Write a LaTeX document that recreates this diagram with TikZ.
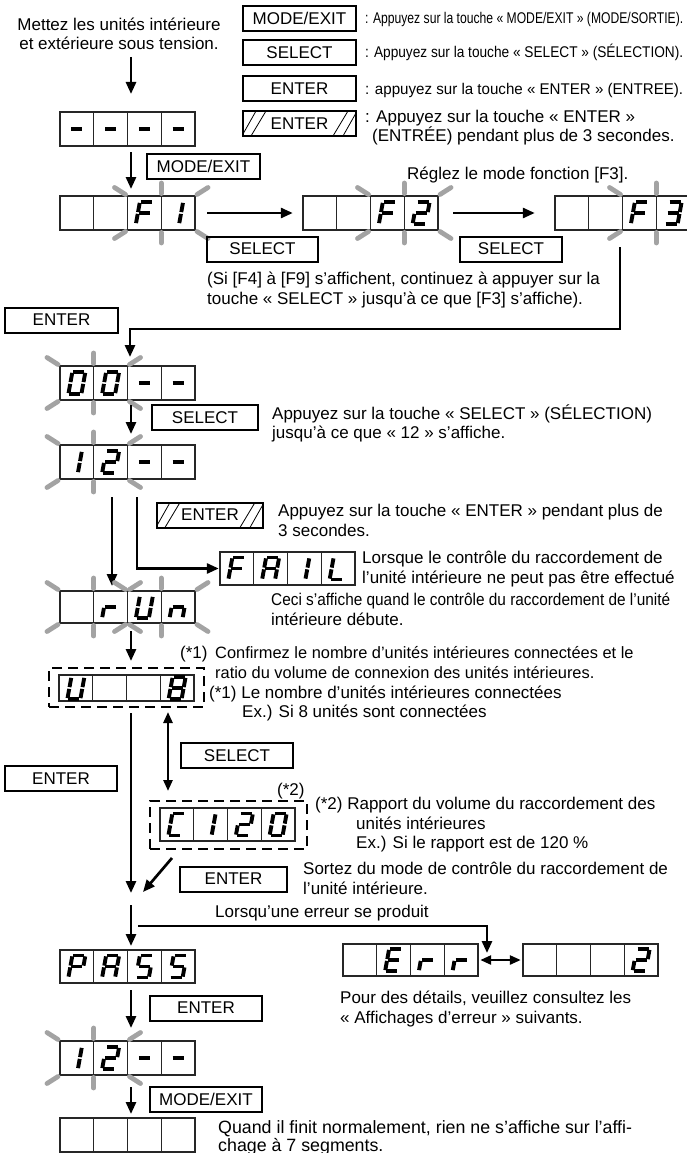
\documentclass[tikz,border=0pt]{standalone}
\usepackage{fontspec}
\usepackage{graphicx}
\setmainfont{Liberation Sans}
\usetikzlibrary{arrows.meta}
\newcommand\fitw[2]{\setbox0\hbox{#2}\pgfmathsetmacro\fitsc{#1/\the\wd0}\scalebox{\fitsc}[1]{\box0}}
\tikzset{
 txt/.style={inner sep=0pt, font=\fontsize{17}{20}\selectfont, anchor=base west},
 lgt/.style={inner sep=0pt, font=\fontsize{15.5}{18}\selectfont, anchor=base west},
 btn/.style={draw, line width=2pt, minimum height=25pt, inner sep=0pt, font=\fontsize{17}{19}\selectfont},
 dispnode/.style={minimum width=135pt, inner sep=0pt, draw=none},
 cellln/.style={line width=1.1pt, draw=black!85},
 segln/.style={line width=3.9pt, black, shorten <=0.9pt, shorten >=0.9pt},
 ray/.style={line width=4.8pt, black!36, line cap=round},
 arr/.style={line width=2.7pt, -{Triangle[length=12pt,width=10pt]}},
 darr/.style={line width=2.5pt, {Triangle[length=11pt,width=9pt]}-{Triangle[length=11pt,width=9pt]}},
 dbox/.style={draw, line width=2.6pt, dash pattern=on 10pt off 6pt, inner sep=0pt},
 hatchln/.style={line width=0.8pt},
}
\newcommand\sgA{\draw[segln] (-4.5,-11) -- (8.5,-11);}
\newcommand\sgB{\draw[segln] (8.5,-11) -- (6.5,0);}
\newcommand\sgC{\draw[segln] (6.5,0) -- (4.5,11);}
\newcommand\sgD{\draw[segln] (-8.5,11) -- (4.5,11);}
\newcommand\sgE{\draw[segln] (-6.5,0) -- (-8.5,11);}
\newcommand\sgF{\draw[segln] (-4.5,-11) -- (-6.5,0);}
\newcommand\sgG{\draw[segln] (-6.5,0) -- (6.5,0);}
\newcommand\sgJ{\draw[segln] (5,-11) -- (3,0);}
\newcommand\sgK{\draw[segln] (3,0) -- (1,11);}
\def\dosegs#1{\ifx#1\relax\else\csname sg#1\endcsname\expandafter\dosegs\fi}
\newcommand\cellseg[3]{\begin{scope}[shift={({#1},{#2})}]\dosegs#3\relax\end{scope}}
\newcommand\disp[8]{%
 \node[dispnode,minimum height=#4pt] (#1) at ({#2+67.5},{#3+#4/2}) {};
 \draw[cellln] (#2,#3) rectangle ({#2+135},{#3+#4});
 \foreach \k in {1,2,3}{\draw[cellln] ({#2+33.75*\k},#3) -- ({#2+33.75*\k},{#3+#4});}
 \cellseg{#2+16.875}{#3+#4/2}{#5}
 \cellseg{#2+50.625}{#3+#4/2}{#6}
 \cellseg{#2+84.375}{#3+#4/2}{#7}
 \cellseg{#2+118.125}{#3+#4/2}{#8}
}
\newcommand\flash[3]{%
 \draw[ray] ({#1-13},{#2-8.5}) -- ({#1-2},{#2-1.5});
 \draw[ray] ({#1+33.75},{#2-13}) -- ({#1+33.75},{#2-2.5});
 \draw[ray] ({#1+80.5},{#2-8.5}) -- ({#1+69.5},{#2-1.5});
 \draw[ray] ({#1-13},{#2+#3+8.5}) -- ({#1-2},{#2+#3+1.5});
 \draw[ray] ({#1+33.75},{#2+#3+13}) -- ({#1+33.75},{#2+#3+2.5});
 \draw[ray] ({#1+80.5},{#2+#3+8.5}) -- ({#1+69.5},{#2+#3+1.5});
}
\newcommand\hatch[1]{%
 \draw[hatchln] ([xshift=1pt,yshift=3pt]#1.south west) -- ([xshift=14pt,yshift=-1pt]#1.north west);
 \draw[hatchln] ([xshift=9pt,yshift=1pt]#1.south west) -- ([xshift=24pt,yshift=-1pt]#1.north west);
 \draw[hatchln] ([xshift=-24pt,yshift=1pt]#1.south east) -- ([xshift=-9pt,yshift=-1pt]#1.north east);
 \draw[hatchln] ([xshift=-14pt,yshift=1pt]#1.south east) -- ([xshift=-1pt,yshift=-3pt]#1.north east);
}
\newcommand\Tl[4]{\node[txt] (#1) at (#2,#3) {#4};}
\begin{document}
\begin{tikzpicture}[x=1pt,y=-1pt]
\useasboundingbox (0,0) rectangle (687,1153);

% ---- title
\node[txt,anchor=base] (ttl1) at (119,31) {Mettez les unités intérieure};
\node[txt,anchor=base] (ttl2) at (119,50) {et extérieure sous tension.};

% ---- legend
\node[btn,minimum width=113pt] (lgME) at (299.5,18.5) {MODE/EXIT};
\node[btn,minimum width=113pt] (lgSE) at (299.5,52.5) {SELECT};
\node[btn,minimum width=113pt] (lgEN) at (299.5,89) {ENTER};
\node[btn,minimum width=113pt] (lgEH) at (299.5,123.5) {ENTER};
\hatch{lgEH}
\node[lgt] (lgt1) at (365,24) {\fitw{318}{: Appuyez sur la touche « MODE/EXIT » (MODE/SORTIE).}};
\node[lgt] (lgt2) at (365,58) {\fitw{318}{: Appuyez sur la touche « SELECT » (SÉLECTION).}};
\node[lgt] (lgt3) at (365,95) {\fitw{318}{: appuyez sur la touche « ENTER » (ENTREE).}};
\Tl{lgt4}{365}{123}{: Appuyez sur la touche « ENTER »}
\Tl{lgt5}{372}{141}{(ENTRÉE) pendant plus de 3 secondes.}

% ---- first display
\disp{d0}{60}{112}{34}{G}{G}{G}{G}
\coordinate (a1s) at (131,57);
\coordinate (a1e) at (131,94);
\draw[arr] (a1s) -- (a1e);

% ---- F row
\coordinate (a2s) at (131,152);
\coordinate (a2e) at (131,189);
\draw[arr] (a2s) -- (a2e);
\node[btn,minimum width=113pt] (bME1) at (203.5,166) {MODE/EXIT};
\disp{dF1}{60}{196}{34}{}{}{AEFG}{JK}
\flash{127.5}{196}{34}
\disp{dF2}{303}{196}{34}{}{}{AEFG}{ABGED}
\flash{370.5}{196}{34}
\disp{dF3}{555}{196}{34}{}{}{AEFG}{ABGCD}
\flash{622.5}{196}{34}
\Tl{tF3}{407}{179}{Réglez le mode fonction [F3].}
\draw[arr] ([xshift=12pt]dF1.east) -- ([xshift=-10pt]dF2.west);
\draw[arr] ([xshift=15pt]dF2.east) -- ([xshift=-20pt]dF3.west);
\node[btn,minimum width=111pt] (bSE1) at (262.5,249) {SELECT};
\node[btn,minimum width=102pt] (bSE2) at (511,249) {SELECT};
\Tl{tSi1}{207}{284}{(Si [F4] à [F9] s’affichent, continuez à appuyer sur la}
\Tl{tSi2}{207}{304}{touche « SELECT » jusqu’à ce que [F3] s’affiche).}

% ---- ENTER to 00
\coordinate (f3d) at (620,247);
\coordinate (c1) at (620,329);
\coordinate (c2) at (130,329);
\coordinate (c3) at (130,357);
\draw[arr] (f3d) -- (c1) -- (c2) -- (c3);
\node[btn,minimum width=113pt] (bEN1) at (61.5,320) {ENTER};
\disp{d00}{60}{366}{34}{ABCDEF}{ABCDEF}{G}{G}
\flash{60}{366}{34}

% ---- 00 to 12
\coordinate (a5s) at (131,405);
\coordinate (a5e) at (131,434);
\draw[arr] (a5s) -- (a5e);
\node[btn,minimum width=106pt] (bSE3) at (205,417.5) {SELECT};
\Tl{tSE1}{272}{419}{Appuyez sur la touche « SELECT » (SÉLECTION)}
\Tl{tSE2}{272}{438}{jusqu’à ce que « 12 » s’affiche.}
\disp{d12a}{60}{445}{34}{JK}{ABGED}{G}{G}
\flash{60}{445}{34}

% ---- hatched enter, FAIL, rUn
\node[btn,minimum width=106pt] (bEH1) at (210,515) {ENTER};
\hatch{bEH1}
\Tl{tEH1}{278}{516}{Appuyez sur la touche « ENTER » pendant plus de}
\Tl{tEH2}{278}{536}{3 secondes.}
\disp{dFAIL}{220}{552}{33}{AEFG}{ABCEFG}{JK}{DEF}
\Tl{tFA1}{362}{563}{Lorsque le contrôle du raccordement de}
\Tl{tFA2}{362}{583}{l’unité intérieure ne peut pas être effectué}
\coordinate (p1) at (112,497);
\coordinate (p2) at (112,586);
\draw[arr] (p1) -- (p2);
\coordinate (q1) at (137,497);
\draw[arr,shorten >=1pt] (q1) |- (dFAIL.west);
\disp{drun}{60}{591}{32}{}{EG}{BCDEF}{CEG}
\flash{60}{591}{32}
\flash{127.5}{591}{32}
\node[txt] (tRU1) at (271,605) {\fitw{399}{Ceci s’affiche quand le contrôle du raccordement de l’unité}};
\Tl{tRU2}{271}{625}{intérieure débute.}

% ---- U8
\coordinate (a6s) at (131,631);
\coordinate (a6e) at (131,661);
\draw[arr] (a6s) -- (a6e);
\Tl{tS1a}{180}{658}{(*1)}
\node[txt,font=\fontsize{16.4}{20}\selectfont] (tCO1) at (215,658) {Confirmez le nombre d’unités intérieures connectées et le};
\node[txt,font=\fontsize{16.4}{20}\selectfont] (tCO2) at (215,678) {ratio du volume de connexion des unités intérieures.};
\Tl{tS1b}{209}{698}{(*1) Le nombre d’unités intérieures connectées}
\Tl{tS1c}{242}{717}{Ex.) Si 8 unités sont connectées}
\node[dbox,minimum width=155pt,minimum height=39pt] (db1) at (126.5,687.5) {};
\disp{dU8}{59}{675}{26}{BCDEF}{}{}{ABCDEFG}

% ---- C120
\coordinate (m1) at (131,713);
\coordinate (m2) at (131,893);
\draw[arr] (m1) -- (m2);
\coordinate (u1) at (168,712);
\coordinate (u2) at (168,791);
\draw[darr] (u1) -- (u2);
\node[btn,minimum width=112pt] (bSE4) at (237,755.5) {SELECT};
\node[btn,minimum width=112pt] (bEN2) at (61,778.5) {ENTER};
\Tl{tS2a}{277}{795}{(*2)}
\node[dbox,minimum width=157pt,minimum height=48pt] (db2) at (228.5,825) {};
\disp{dC}{160}{808}{33}{ADEF}{JK}{ABGED}{ABCDEF}
\Tl{tS2b}{315}{809}{(*2) Rapport du volume du raccordement des}
\Tl{tS2c}{356}{829}{unités intérieures}
\Tl{tS2d}{356}{848}{Ex.) Si le rapport est de 120 \%}
\coordinate (g1) at (172,858);
\coordinate (g2) at (143,892);
\draw[arr] (g1) -- (g2);
\node[btn,minimum width=107pt] (bEN3) at (233.5,879) {ENTER};
\Tl{tSO1}{303}{874}{Sortez du mode de contrôle du raccordement de}
\Tl{tSO2}{303}{894}{l’unité intérieure.}

% ---- PASS / Err
\coordinate (a7s) at (131,905);
\coordinate (a7e) at (131,946);
\draw[arr] (a7s) -- (a7e);
\Tl{tER}{215}{917}{Lorsqu’une erreur se produit}
\disp{dErr}{343}{944}{32}{}{ADEFG}{EG}{EG}
\disp{d2}{523}{944}{32}{}{}{}{ABGED}
\draw[darr] ([xshift=2pt]dErr.east) -- ([xshift=-2pt]d2.west);
\coordinate (e1) at (138,926);
\coordinate (e2) at (487,953);
\draw[arr] (e1) -| (e2);
\disp{dPASS}{60}{950}{33}{ABEFG}{ABCEFG}{ACDFG}{ACDFG}
\Tl{tPO1}{340}{1003}{Pour des détails, veuillez consultez les}
\Tl{tPO2}{340}{1023}{« Affichages d’erreur » suivants.}

% ---- end
\coordinate (a8s) at (131,990);
\coordinate (a8e) at (131,1028);
\draw[arr] (a8s) -- (a8e);
\node[btn,minimum width=112pt] (bEN4) at (206,1008) {ENTER};
\disp{d12b}{60}{1041}{34}{JK}{ABGED}{G}{G}
\flash{60}{1041}{34}
\coordinate (a9s) at (131,1087);
\coordinate (a9e) at (131,1114);
\draw[arr] (a9s) -- (a9e);
\node[btn,minimum width=112pt] (bME2) at (206,1099) {MODE/EXIT};
\disp{dEnd}{60}{1118}{34}{}{}{}{}
\node[txt,font=\fontsize{17.8}{20}\selectfont] (tQU1) at (218,1133) {Quand il finit normalement, rien ne s’affiche sur l’affi-};
\node[txt,font=\fontsize{17.8}{20}\selectfont] (tQU2) at (218,1151) {chage à 7 segments.};
\end{tikzpicture}
\end{document}
